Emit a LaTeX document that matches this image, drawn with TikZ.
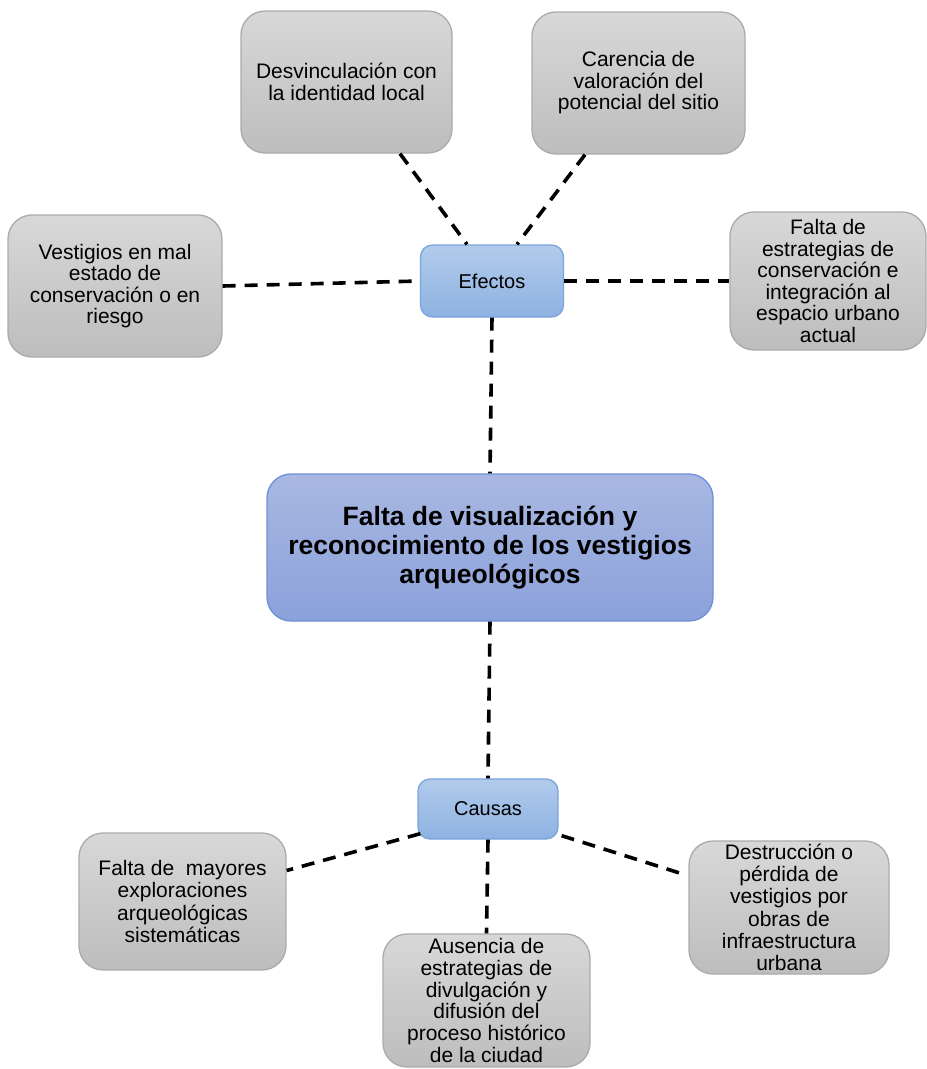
\documentclass[tikz,border=0pt]{standalone}
\usepackage{fontspec}
\setmainfont{Liberation Sans}
\usetikzlibrary{calc}
\definecolor{grayTop}{HTML}{D8D8D8}
\definecolor{grayBot}{HTML}{BDBDBD}
\definecolor{grayLine}{HTML}{ABABAB}
\definecolor{blueTop}{HTML}{B2CBEB}
\definecolor{blueBot}{HTML}{8DB2E2}
\definecolor{blueLine}{HTML}{79A4DC}
\definecolor{mainTop}{HTML}{A9B8E2}
\definecolor{mainBot}{HTML}{8BA1DA}
\definecolor{mainLine}{HTML}{6E90D8}
\tikzset{
  graybox/.style={rectangle, rounded corners=24pt, draw=grayLine, line width=1.3pt,
    top color=grayTop, bottom color=grayBot, align=center, inner sep=0pt,
    font=\fontsize{21}{21.5}\selectfont},
  graylow/.style={graybox, font=\fontsize{21}{22.3}\selectfont},
  bluebox/.style={rectangle, rounded corners=12pt, draw=blueLine, line width=1.3pt,
    top color=blueTop, bottom color=blueBot, align=center, inner sep=0pt,
    font=\fontsize{20}{21}\selectfont},
  mainbox/.style={rectangle, rounded corners=24pt, draw=mainLine, line width=1.3pt,
    top color=mainTop, bottom color=mainBot, align=center, inner sep=0pt,
    font=\fontsize{26.5}{29}\selectfont\bfseries},
  link/.style={line width=3.6pt, dash pattern=on 13pt off 9pt, black}
}
\begin{document}
\begin{tikzpicture}[x=1pt,y=-1pt]
\useasboundingbox (0,0) rectangle (927,1069);
\clip (0,0) rectangle (927,1069);
\fill[white] (0,0) rectangle (927,1069);

\node[graybox, minimum width=211pt, minimum height=142pt] (desv) at (346.5,82) {Desvinculación con\\la identidad local};
\node[graybox, minimum width=213pt, minimum height=142pt] (care) at (638.5,83) {Carencia de\\valoración del\\potencial del sitio};
\node[graybox, minimum width=214pt, minimum height=142pt] (vest) at (115,286) {Vestigios en mal\\estado de\\conservación o en\\riesgo};
\node[graybox, minimum width=196pt, minimum height=138pt] (fest) at (828,281) {Falta de\\estrategias de\\conservación e\\integración al\\espacio urbano\\actual};
\node[bluebox, minimum width=143pt, minimum height=72pt] (efec) at (492,281) {Efectos};
\node[mainbox, minimum width=446pt, minimum height=147pt] (main) at (490,547.5) {Falta de visualización y\\reconocimiento de los vestigios\\arqueológicos};
\node[bluebox, minimum width=140pt, minimum height=60pt] (caus) at (488,809) {Causas};
\node[graylow, minimum width=207pt, minimum height=137pt] (fmay) at (182.5,901.5) {Falta de\ \ mayores\\exploraciones\\arqueológicas\\sistemáticas};
\node[graylow, font=\fontsize{21}{21.8}\selectfont, minimum width=207pt, minimum height=133pt] (ause) at (486.5,1000.5) {Ausencia de\\estrategias de\\divulgación y\\difusión del\\proceso histórico\\de la ciudad};
\node[graylow, minimum width=200pt, minimum height=133pt] (dest) at (789,907.5) {Destrucción o\\pérdida de\\vestigios por\\obras de\\infraestructura\\urbana};

\draw[link] ($(desv.south)+(53.5,0)$) -- ($(efec.north)+(-25,0)$);
\draw[link] ($(care.south)+(-53.5,0)$) -- ($(efec.north)+(25,0)$);
\draw[link] (vest.east) -- (efec.west);
\draw[link] (efec.east) -- (fest.west);
\draw[link] (efec.south) -- (main.north);
\draw[link] (main.south) -- (caus.north);
\draw[link] ($(caus.south west)+(3,-6)$) -- ($(fmay.east)+(0,-31)$);
\draw[link] ($(caus.south east)+(3,-4)$) -- ($(dest.west)+(-4,-33)$);
\draw[link] (caus.south) -- (ause.north);
\end{tikzpicture}
\end{document}
